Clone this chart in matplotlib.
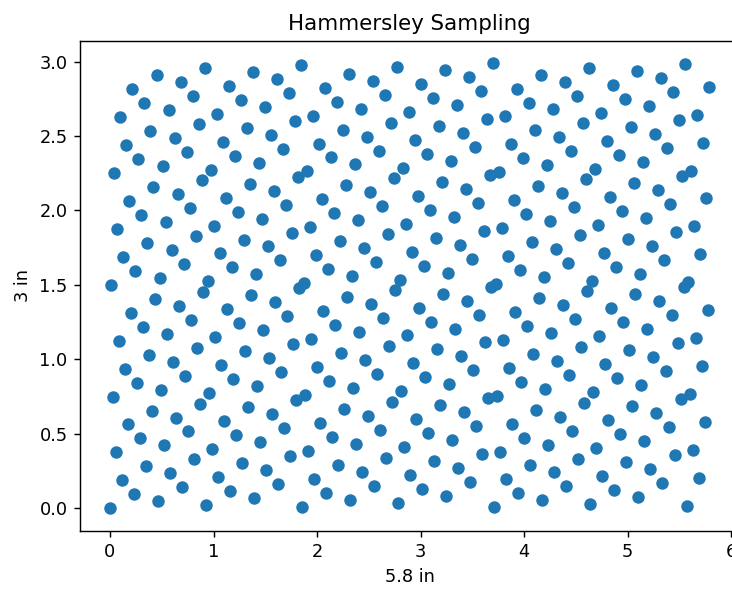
import numpy as np
import matplotlib.pyplot as plt

# sheet size (inches) and number of samples
width = 5.8
height = 3.0
n_samples = 400

# second coordinate of each sample, in 1/512 of the height
# (rows of 8 consecutive samples)
y_num = [
    [0, 256, 128, 384, 64, 320, 192, 448],
    [32, 288, 160, 416, 96, 352, 224, 480],
    [16, 272, 144, 400, 80, 336, 208, 464],
    [48, 304, 176, 432, 112, 368, 240, 496],
    [8, 264, 136, 392, 72, 328, 200, 456],
    [40, 296, 168, 424, 104, 360, 232, 488],
    [24, 280, 152, 408, 88, 344, 216, 472],
    [56, 312, 184, 440, 120, 376, 248, 504],
    [4, 260, 132, 388, 68, 324, 196, 452],
    [36, 292, 164, 420, 100, 356, 228, 484],
    [20, 276, 148, 404, 84, 340, 212, 468],
    [52, 308, 180, 436, 116, 372, 244, 500],
    [12, 268, 140, 396, 76, 332, 204, 460],
    [44, 300, 172, 428, 108, 364, 236, 492],
    [28, 284, 156, 412, 92, 348, 220, 476],
    [60, 316, 188, 444, 124, 380, 252, 508],
    [2, 258, 130, 386, 66, 322, 194, 450],
    [34, 290, 162, 418, 98, 354, 226, 482],
    [18, 274, 146, 402, 82, 338, 210, 466],
    [50, 306, 178, 434, 114, 370, 242, 498],
    [10, 266, 138, 394, 74, 330, 202, 458],
    [42, 298, 170, 426, 106, 362, 234, 490],
    [26, 282, 154, 410, 90, 346, 218, 474],
    [58, 314, 186, 442, 122, 378, 250, 506],
    [6, 262, 134, 390, 70, 326, 198, 454],
    [38, 294, 166, 422, 102, 358, 230, 486],
    [22, 278, 150, 406, 86, 342, 214, 470],
    [54, 310, 182, 438, 118, 374, 246, 502],
    [14, 270, 142, 398, 78, 334, 206, 462],
    [46, 302, 174, 430, 110, 366, 238, 494],
    [30, 286, 158, 414, 94, 350, 222, 478],
    [62, 318, 190, 446, 126, 382, 254, 510],
    [1, 257, 129, 385, 65, 321, 193, 449],
    [33, 289, 161, 417, 97, 353, 225, 481],
    [17, 273, 145, 401, 81, 337, 209, 465],
    [49, 305, 177, 433, 113, 369, 241, 497],
    [9, 265, 137, 393, 73, 329, 201, 457],
    [41, 297, 169, 425, 105, 361, 233, 489],
    [25, 281, 153, 409, 89, 345, 217, 473],
    [57, 313, 185, 441, 121, 377, 249, 505],
    [5, 261, 133, 389, 69, 325, 197, 453],
    [37, 293, 165, 421, 101, 357, 229, 485],
    [21, 277, 149, 405, 85, 341, 213, 469],
    [53, 309, 181, 437, 117, 373, 245, 501],
    [13, 269, 141, 397, 77, 333, 205, 461],
    [45, 301, 173, 429, 109, 365, 237, 493],
    [29, 285, 157, 413, 93, 349, 221, 477],
    [61, 317, 189, 445, 125, 381, 253, 509],
    [3, 259, 131, 387, 67, 323, 195, 451],
    [35, 291, 163, 419, 99, 355, 227, 483],
]

idx = np.arange(n_samples)
x = idx / n_samples * width
y = np.array(y_num).ravel() / 512 * height

dpi = 128
fig = plt.figure(figsize=(732 / dpi, 589 / dpi), dpi=dpi)
# axes run a bit past the right edge, like the cropped original
ax = fig.add_axes([80 / 732, 58.5 / 589, 659 / 732, 489.5 / 589])
ax.scatter(x, y)
ax.set_title('Hammersley Sampling')
ax.set_xlabel('5.8 in')
ax.set_ylabel('3 in')

fig.savefig('out.png', dpi=dpi)
